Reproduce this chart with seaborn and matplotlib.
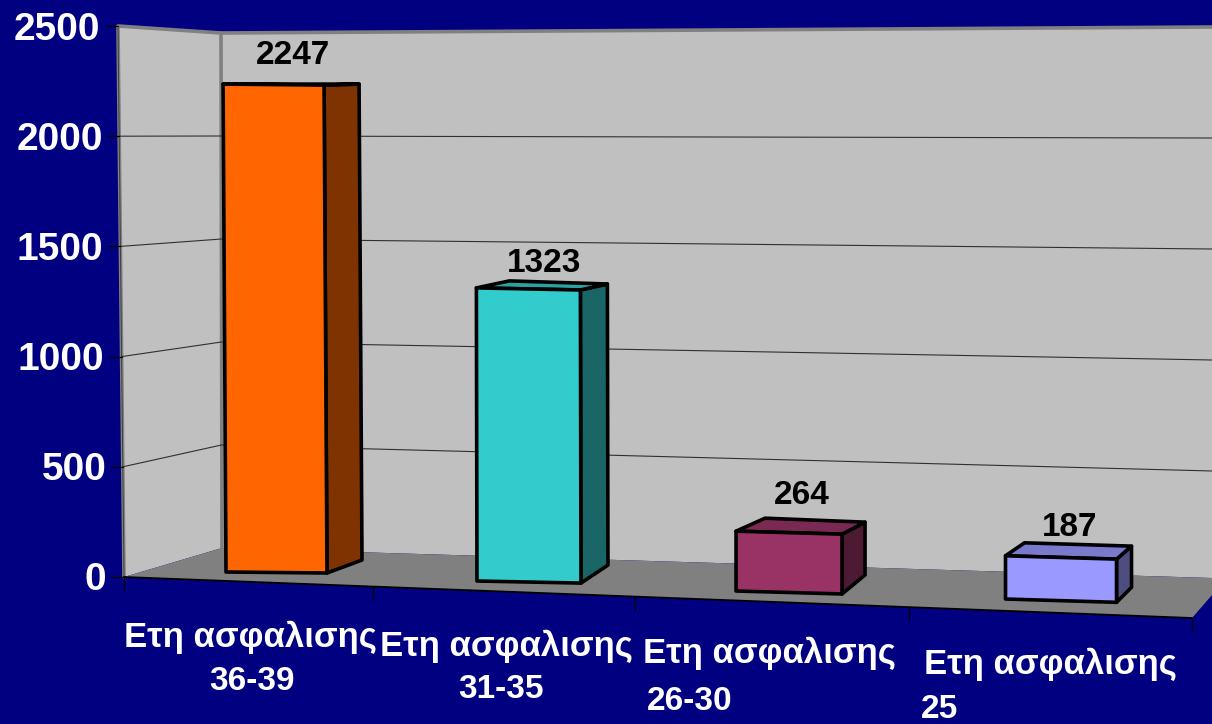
import matplotlib
matplotlib.use('Agg')
import numpy as np
import pandas as pd
import matplotlib.pyplot as plt
import seaborn as sns
from matplotlib.patches import Polygon
from matplotlib.transforms import Affine2D, IdentityTransform

years = ['36-39', '31-35', '26-30', '25']
values = [2247, 1323, 264, 187]
first_line = 'Ετη ασφαλισης'
y_ticks = [0, 500, 1000, 1500, 2000, 2500]

front_colors = ['#FF6600', '#33CCCC', '#993366', '#9999FF']
side_colors = ['#7F3300', '#1A6666', '#4D1A33', '#4D4D80']
top_colors = ['#7F3300', '#29A3A3', '#7A2952', '#7A7ACC']

W, H = 1212, 724
NAVY = '#000080'

sns.set_theme(style='white')
plt.rcParams['font.family'] = ['Liberation Sans', 'DejaVu Sans']

fig = plt.figure(figsize=(W / 100, H / 100), dpi=100, facecolor=NAVY)
# axes runs from the 2500 level to the 0 level of the left wall
ax = fig.add_axes([118 / W, 1 - 577 / H, (W - 118) / W, 550 / H])
ax.patch.set_visible(False)

# picture pixels, y down
px = Affine2D().scale(1, -1).translate(0, H)


def wall_y(corner, v):
    y0, y1 = corner
    return y0 + (y1 - y0) * v / 2500


# ---- bars first, the decoration goes behind them by zorder
df = pd.DataFrame({'years': years, 'value': values})
sns.barplot(data=df, x='years', y='value', hue='years', palette=front_colors, legend=False,
            order=years, width=0.39, edgecolor='black', linewidth=2.6, saturation=1, ax=ax, zorder=3)
bars = sorted([p for cont in ax.containers for p in cont], key=lambda p: p.get_x())

spacing = 261.67
ax.set_xlim((118 - 276) / spacing, (W - 276) / spacing)
ax.set_ylim(0, 2500)
ax.set_yticks(y_ticks)
ax.set_xlabel('')
ax.set_ylabel('')
ax.set_xticks([])
sns.despine(ax=ax, left=True, bottom=True)
ax.tick_params(axis='y', length=0, pad=10.5, labelcolor='white', labelsize=28)
# the tick labels follow the slanted front edge of the wall
label_dx = [3, 3, 1, 0, 0, -3]
fig.canvas.draw()
for lab, dx in zip(ax.get_yticklabels(), label_dx):
    lab.set_fontweight('bold')
    lab.set_transform(lab.get_transform() + Affine2D().translate(dx, 1))

# ---- walls and floor
left_wall = [(118, 26), (221, 33), (222, 548), (124, 577)]
back_wall = [(221, 33), (W, 27), (W, 578), (222, 548)]
floor = [(124, 577), (222, 548), (W, 578), (W, 595), (1192, 618)]
ax.add_patch(Polygon(left_wall, fc='#C0C0C0', ec='none', transform=px, clip_on=False, zorder=0.5))
ax.add_patch(Polygon(back_wall, fc='#C0C0C0', ec='none', transform=px, clip_on=False, zorder=0.5))
ax.add_patch(Polygon(floor, fc='#808080', ec='none', transform=px, clip_on=False, zorder=0.6))
ax.plot([124, 118, 221, W], [577, 26, 33, 27], color='#808080', lw=2.6, transform=px, clip_on=False, zorder=0.7)
ax.plot([221, 222], [33, 548], color='#808080', lw=2.6, transform=px, clip_on=False, zorder=0.7)
ax.plot([124, 118], [577, 26], color='#404040', lw=0.7, transform=px, clip_on=False, zorder=0.8)

# grid lines run along both walls, ticks stick out left of the front edge
for v in y_ticks[1:-1]:
    xs = [118 + 6 * (1 - v / 2500), 221.5, W]
    ys = [wall_y((577, 26), v), wall_y((548, 33), v), wall_y((582, 27), v)]
    ax.plot(xs, ys, color='#303030', lw=0.8, transform=px, clip_on=False, zorder=0.8)
for v in y_ticks:
    x0 = 118 + 6 * (1 - v / 2500)
    y0 = wall_y((577, 26), v)
    ax.plot([x0 - 12, x0], [y0, y0], color='black', lw=0.9, transform=px, clip_on=False, zorder=0.8)

# floor front edge and category ticks
ax.plot([124, 1192], [577, 618], color='black', lw=1.3, transform=px, clip_on=False, zorder=0.8)
for x0 in [124, 373, 635, 909, 1192]:
    y0 = 577 + 41 * (x0 - 124) / 1068
    ax.plot([x0, x0], [y0, y0 + 13], color='black', lw=0.9, transform=px, clip_on=False, zorder=0.8)

# perspective corrections per bar: shift x, shift y (down), height scale, width px, floor slope, lean
shift_x = [0.5, -8.7, -10.3, 0]
shift_y = [-5, 4, 14, 22]
height_k = [0.987, 1.007, 1.03, 1.05]
width_px = [101, 104, 106, 111]
slope = [0.01, 0.02, 0.028, 0.03]
lean = [0.006, 0.002, 0.0, 0.0]
# depth of the side and top faces: right dx, top rise, bottom rise, left dx, left rise
depth = [(35, 1, 13, 35, 0), (27, 6, 18, 33, 7), (23, 12, 19, 29, 13), (15, 13, 15, 19, 13)]

for i, bar in enumerate(bars):
    w = width_px[i] / spacing
    bar.set_x(i - w / 2)
    bar.set_width(w)
    x0, y0 = ax.transData.transform((i - w / 2, 0))
    warp = Affine2D.from_values(1, -slope[i], -lean[i], 1, 0, 0)
    tf = (Affine2D().scale(1, height_k[i]) + ax.transData + Affine2D().translate(-x0, -y0)
          + warp + Affine2D().translate(x0 + shift_x[i], y0 - shift_y[i]))
    bar.set_transform(tf)
    h = bar.get_height()
    fl = tf.transform((i - w / 2, h))
    fr = tf.transform((i + w / 2, h))
    br = tf.transform((i + w / 2, 0))
    rdx, trise, brise, ldx, lrise = depth[i]
    side = [br, br + (rdx, brise), fr + (rdx, trise), fr]
    top = [fl, fr, fr + (rdx, trise), fl + (ldx, lrise)]
    for pts, col in [(side, side_colors[i]), (top, top_colors[i])]:
        ax.add_patch(Polygon(pts, fc=col, ec='black', lw=2.6, joinstyle='round',
                             transform=IdentityTransform(), clip_on=False, zorder=2.9))
    bar.set_joinstyle('round')
    bar.set_clip_on(False)

# ---- value labels
label_xy = [(293, 55), (544, 264), (802, 496), (1070, 528)]
for v, (x, y) in zip(values, label_xy):
    ax.text(x, y, str(v), transform=px, ha='center', va='center', color='black',
            fontsize=24, fontweight='bold', clip_on=False, zorder=4)

# ---- category labels, they do not line up in the original
line1_xy = [(250, 637), (506, 646), (769, 653), (1050, 664)]
line2_xy = [(252, 682), (501, 690), (690, 701), (939, 710)]
for yr, p1, p2 in zip(years, line1_xy, line2_xy):
    ax.text(p1[0], p1[1], first_line, transform=px, ha='center', va='center', color='white',
            fontsize=25, fontweight='bold', clip_on=False)
    ax.text(p2[0], p2[1], yr, transform=px, ha='center', va='center', color='white',
            fontsize=24, fontweight='bold', clip_on=False)

fig.savefig('out.png', dpi=100, facecolor=NAVY)
